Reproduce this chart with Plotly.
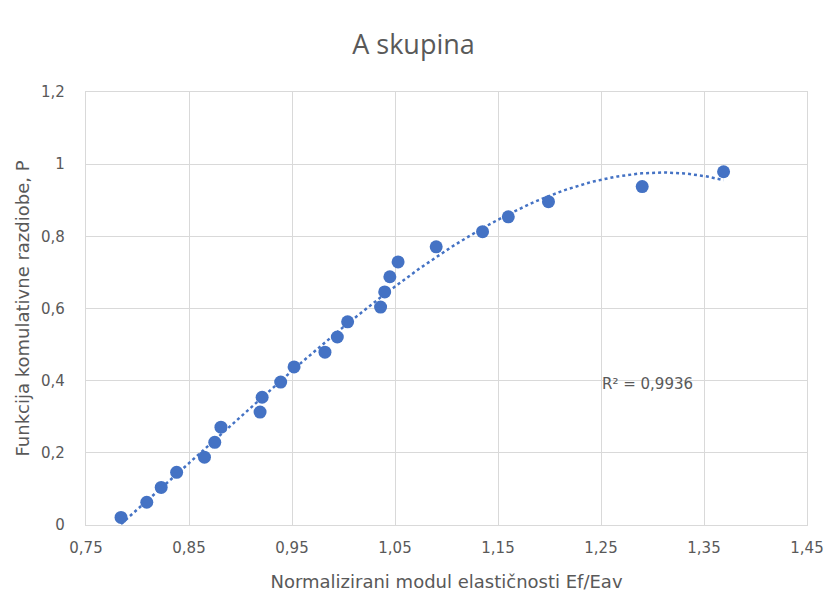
import numpy as np
import plotly.graph_objects as go

# Data
ef_eav = [0.784, 0.809, 0.823, 0.838, 0.865, 0.875, 0.881, 0.919, 0.921, 0.939,
          0.952, 0.982, 0.994, 1.004, 1.036, 1.040, 1.045, 1.053, 1.090, 1.135,
          1.160, 1.199, 1.290, 1.369]
p_values = [0.021, 0.063, 0.104, 0.146, 0.188, 0.229, 0.271, 0.313, 0.354, 0.396,
            0.438, 0.479, 0.521, 0.563, 0.604, 0.646, 0.688, 0.729, 0.771, 0.813,
            0.854, 0.896, 0.938, 0.979]

x_tickvals = [0.75, 0.85, 0.95, 1.05, 1.15, 1.25, 1.35, 1.45]
x_ticktext = ["0,75", "0,85", "0,95", "1,05", "1,15", "1,25", "1,35", "1,45"]
y_tickvals = [0, 0.2, 0.4, 0.6, 0.8, 1.0, 1.2]
y_ticktext = ["0", "0,2", "0,4", "0,6", "0,8", "1", "1,2"]

title_text = "A skupina"
x_title = "Normalizirani modul elastičnosti Ef/Eav"
y_title = "Funkcija komulativne razdiobe, P"
r2_text = "R² = 0,9936"

# Polynomial trend line (order 3) fitted from the data
coef = np.polyfit(ef_eav, p_values, 3)
xt = np.linspace(min(ef_eav), max(ef_eav), 200)
yt = np.polyval(coef, xt)

blue = "#4472C4"
gray = "#595959"
grid = "#D9D9D9"
font_family = "DejaVu Sans, Open Sans, sans-serif"
title_family = "Open Sans, DejaVu Sans, sans-serif"

fig = go.Figure()
fig.add_trace(go.Scatter(x=xt, y=yt, mode="lines",
                         line=dict(color=blue, width=2.5, dash="dot"),
                         hoverinfo="skip", showlegend=False))
fig.add_trace(go.Scatter(x=ef_eav, y=p_values, mode="markers",
                         marker=dict(color=blue, size=13),
                         showlegend=False))

fig.add_annotation(x=1.2956, y=0.392, xref="x", yref="y", text=r2_text,
                   showarrow=False, font=dict(size=15, color=gray, family=font_family))

fig.update_layout(
    width=827, height=596,
    margin=dict(l=86, r=20, t=92, b=71, autoexpand=False),
    paper_bgcolor="white", plot_bgcolor="white",
    separators=",.",
    title=dict(text=title_text, x=0.5, xanchor="center",
               y=1 - 45 / 596, yref="container", yanchor="middle",
               font=dict(size=27, color=gray, family=title_family)),
    font=dict(family=font_family, color=gray),
    xaxis=dict(range=[0.75, 1.45], tickvals=x_tickvals, ticktext=x_ticktext,
               automargin=False,
               showgrid=True, gridcolor=grid, gridwidth=1.3,
               showline=True, linecolor=grid, linewidth=1.3, mirror=True,
               zeroline=False, ticks="", ticklabelstandoff=9,
               tickfont=dict(size=15, color=gray),
               title=dict(text=x_title, font=dict(size=18, color=gray), standoff=19)),
    yaxis=dict(range=[0, 1.2], tickvals=y_tickvals, ticktext=y_ticktext,
               automargin=False,
               showgrid=True, gridcolor=grid, gridwidth=1.3,
               showline=True, linecolor=grid, linewidth=1.3, mirror=True,
               zeroline=False, ticks="", ticklabelstandoff=17,
               tickfont=dict(size=15, color=gray),
               title=dict(text=y_title, font=dict(size=18, color=gray), standoff=6)),
)

fig.write_html("out.html", config={"displayModeBar": False},
               post_script="document.body.style.margin='0';")
